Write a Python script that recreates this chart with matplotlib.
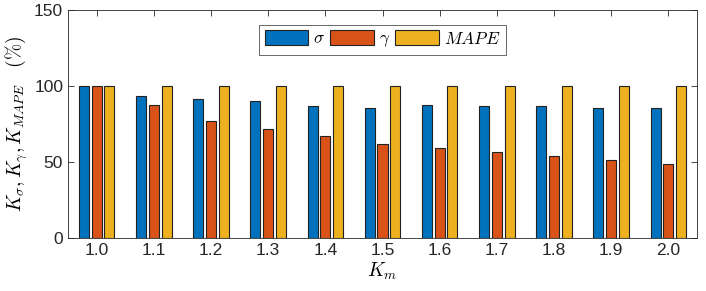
import numpy as np
import matplotlib.pyplot as plt

plt.rcParams['font.family'] = ['Liberation Sans', 'DejaVu Sans']
plt.rcParams['mathtext.fontset'] = 'cm'

km_labels = ['1.0', '1.1', '1.2', '1.3', '1.4', '1.5', '1.6', '1.7', '1.8', '1.9', '2.0']
k_sigma = [100, 93.4, 91.2, 89.9, 86.6, 85.3, 87.7, 86.6, 86.6, 85.3, 85.3]
k_gamma = [100, 87.3, 76.9, 71.9, 66.8, 61.6, 58.9, 56.3, 53.9, 51.2, 48.6]
k_mape = [100, 100, 100, 100, 100, 100, 100, 100, 100, 100, 100]

colors = ['#0072BD', '#D95319', '#EDB120']
labels = [r'$\sigma$', r'$\gamma$', r'$MAPE$']

fig = plt.figure(figsize=(7.06, 2.91), dpi=100)
ax = fig.add_axes([68 / 706, 1 - 238 / 291, 629 / 706, 228 / 291])

x = np.arange(1, len(km_labels) + 1)
offset = 0.224
width = 0.175
for i, (vals, c, lab) in enumerate(zip([k_sigma, k_gamma, k_mape], colors, labels)):
    ax.bar(x + (i - 1) * offset, vals, width, color=c, edgecolor='#222222',
           linewidth=0.8, label=lab, zorder=2)

ax.set_xlim(0.5, 11.5)
ax.set_ylim(0, 150)
ax.set_xticks(x)
ax.set_xticklabels(km_labels)
ax.set_yticks([0, 50, 100, 150])
ax.tick_params(direction='in', top=True, right=True, labelsize=12.5,
               colors='#262626', length=4, width=0.6)
for s in ax.spines.values():
    s.set_color('#262626')
    s.set_linewidth(0.6)

ax.set_xlabel(r'$K_m$', fontsize=14, labelpad=2)
ax.set_ylabel(r'$K_\sigma, K_\gamma, K_{MAPE}\quad(\%)$', fontsize=14, labelpad=3)

leg = ax.legend(ncol=3, loc='upper center', bbox_to_anchor=(0.5, 0.936),
                fontsize=12.5, frameon=True, fancybox=False, edgecolor='#262626',
                handlelength=2.5, handleheight=1.0, handletextpad=0.3,
                columnspacing=0.3, borderpad=0.3, borderaxespad=0)
leg.get_frame().set_linewidth(0.6)

fig.savefig('out.png', dpi=100)
